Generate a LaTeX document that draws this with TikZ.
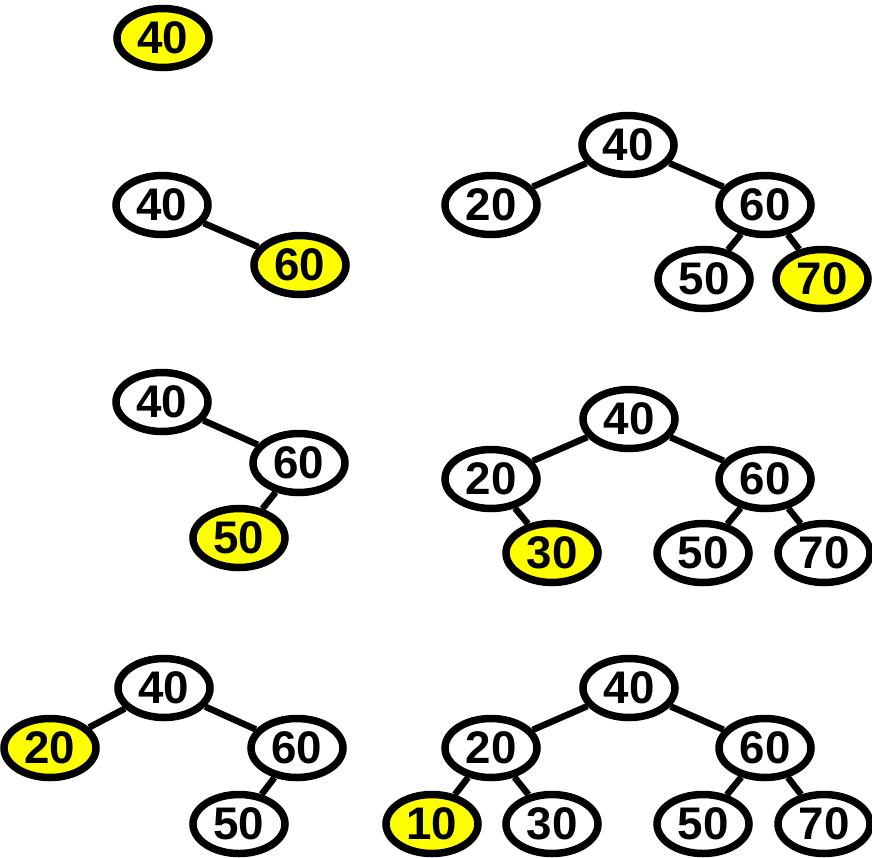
\documentclass[tikz,border=0pt]{standalone}
\usepackage{fontspec}
\setmainfont{Liberation Sans}
\usetikzlibrary{shapes.geometric}
\definecolor{hiyellow}{RGB}{255,255,0}
\tikzset{
  key/.style={ellipse, draw=black, line width=0.075cm, fill=white, inner sep=0pt,
    minimum width=0.92cm, minimum height=0.59cm,
    font=\fontsize{13}{13}\selectfont\bfseries},
  newkey/.style={key, fill=hiyellow},
  link/.style={line width=0.065cm, black}
}
\begin{document}
\begin{tikzpicture}
\useasboundingbox (0,0) rectangle (8.72,-8.57);
% Step 1
\node[newkey] (a40) at (1.63,-0.38) {40};
% Step 2
\node[key] (b40) at (1.62,-2.05) {40};
\node[newkey] (b60) at (3.00,-2.65) {60};
\draw[link] (b40) -- (b60);
% Step 3
\node[key] (c40) at (1.62,-4.02) {40};
\node[key] (c60) at (2.99,-4.63) {60};
\node[newkey] (c50) at (2.39,-5.38) {50};
\draw[link] (c40) -- (c60);
\draw[link] (c60) -- (c50);
% Step 4
\node[key] (d40) at (1.64,-6.88) {40};
\node[newkey] (d20) at (0.50,-7.48) {20};
\node[key] (d60) at (2.97,-7.48) {60};
\node[key] (d50) at (2.39,-8.24) {50};
\draw[link] (d40) -- (d20);
\draw[link] (d40) -- (d60);
\draw[link] (d60) -- (d50);
% Step 5
\node[key] (e40) at (6.28,-1.45) {40};
\node[key] (e20) at (4.91,-2.05) {20};
\node[key] (e60) at (7.65,-2.05) {60};
\node[key] (e50) at (7.04,-2.79) {50};
\node[newkey] (e70) at (8.22,-2.79) {70};
\draw[link] (e40) -- (e20);
\draw[link] (e40) -- (e60);
\draw[link] (e60) -- (e50);
\draw[link] (e60) -- (e70);
% Step 6
\node[key] (f40) at (6.29,-4.19) {40};
\node[key] (f20) at (4.91,-4.79) {20};
\node[key] (f60) at (7.65,-4.79) {60};
\node[newkey] (f30) at (5.52,-5.53) {30};
\node[key] (f50) at (7.03,-5.53) {50};
\node[key] (f70) at (8.24,-5.53) {70};
\draw[link] (f40) -- (f20);
\draw[link] (f40) -- (f60);
\draw[link] (f20) -- (f30);
\draw[link] (f60) -- (f50);
\draw[link] (f60) -- (f70);
% Step 7
\node[key] (g40) at (6.29,-6.88) {40};
\node[key] (g20) at (4.91,-7.48) {20};
\node[key] (g60) at (7.65,-7.48) {60};
\node[newkey] (g10) at (4.32,-8.24) {10};
\node[key] (g30) at (5.52,-8.24) {30};
\node[key] (g50) at (7.03,-8.24) {50};
\node[key] (g70) at (8.24,-8.24) {70};
\draw[link] (g40) -- (g20);
\draw[link] (g40) -- (g60);
\draw[link] (g20) -- (g10);
\draw[link] (g20) -- (g30);
\draw[link] (g60) -- (g50);
\draw[link] (g60) -- (g70);
\end{tikzpicture}
\end{document}
